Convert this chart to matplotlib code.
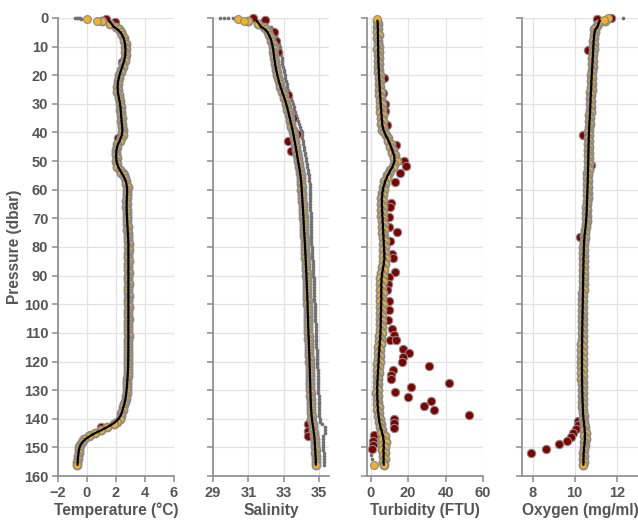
import numpy as np
import matplotlib
matplotlib.use("Agg")
import matplotlib.pyplot as plt
import pandas as pd

plt.rcParams["font.family"] = ["Liberation Sans", "DejaVu Sans"]
plt.rcParams["font.weight"] = "bold"

# pressure grid of the profile samples (dbar)
PRESSURE = np.arange(1, 157)

TEMPERATURE = [
    1.02, 1.58, 1.97, 2.18, 2.38, 2.44, 2.57, 2.58, 2.66, 2.62,
    2.69, 2.63, 2.68, 2.61, 2.60, 2.47, 2.46, 2.35, 2.32, 2.20,
    2.20, 2.12, 2.14, 2.08, 2.12, 2.10, 2.18, 2.18, 2.27, 2.27,
    2.33, 2.31, 2.36, 2.33, 2.39, 2.37, 2.42, 2.40, 2.47, 2.44,
    2.48, 2.35, 2.25, 2.07, 2.08, 1.99, 2.03, 1.98, 2.04, 2.00,
    2.07, 2.08, 2.25, 2.35, 2.55, 2.60, 2.72, 2.72, 2.80, 2.76,
    2.79, 2.74, 2.77, 2.72, 2.74, 2.72, 2.75, 2.73, 2.77, 2.74,
    2.79, 2.77, 2.81, 2.79, 2.83, 2.82, 2.86, 2.84, 2.87, 2.84,
    2.87, 2.85, 2.86, 2.84, 2.87, 2.85, 2.86, 2.85, 2.87, 2.84,
    2.86, 2.85, 2.87, 2.85, 2.86, 2.84, 2.87, 2.85, 2.86, 2.85,
    2.87, 2.84, 2.86, 2.85, 2.87, 2.85, 2.86, 2.84, 2.86, 2.85,
    2.87, 2.85, 2.86, 2.84, 2.86, 2.85, 2.86, 2.84, 2.85, 2.85,
    2.86, 2.83, 2.84, 2.81, 2.81, 2.78, 2.79, 2.76, 2.76, 2.73,
    2.73, 2.68, 2.67, 2.61, 2.58, 2.51, 2.47, 2.38, 2.34, 2.25,
    2.10, 1.86, 1.38, 0.97, 0.52, 0.17, -0.20, -0.36, -0.50, -0.53,
    -0.58, -0.58, -0.62, -0.62, -0.66, -0.67,
]

SALINITY = [
    30.95, 31.55, 31.88, 31.98, 32.12, 32.16, 32.27, 32.28, 32.37, 32.36,
    32.42, 32.40, 32.46, 32.44, 32.50, 32.48, 32.55, 32.54, 32.62, 32.61,
    32.69, 32.70, 32.77, 32.78, 32.88, 32.90, 33.00, 33.01, 33.11, 33.12,
    33.20, 33.20, 33.28, 33.28, 33.35, 33.35, 33.43, 33.43, 33.51, 33.50,
    33.57, 33.56, 33.63, 33.62, 33.69, 33.68, 33.74, 33.73, 33.80, 33.78,
    33.85, 33.84, 33.91, 33.90, 33.96, 33.94, 33.99, 33.97, 34.02, 33.99,
    34.03, 34.02, 34.05, 34.04, 34.07, 34.06, 34.09, 34.08, 34.11, 34.10,
    34.13, 34.11, 34.14, 34.13, 34.16, 34.15, 34.18, 34.17, 34.20, 34.19,
    34.22, 34.20, 34.23, 34.22, 34.25, 34.23, 34.26, 34.25, 34.28, 34.27,
    34.29, 34.28, 34.30, 34.29, 34.32, 34.30, 34.33, 34.32, 34.34, 34.33,
    34.35, 34.34, 34.36, 34.35, 34.37, 34.36, 34.38, 34.37, 34.39, 34.38,
    34.41, 34.39, 34.42, 34.41, 34.43, 34.42, 34.44, 34.43, 34.46, 34.44,
    34.47, 34.45, 34.47, 34.46, 34.48, 34.47, 34.49, 34.48, 34.50, 34.49,
    34.51, 34.50, 34.52, 34.51, 34.53, 34.53, 34.55, 34.54, 34.57, 34.56,
    34.61, 34.62, 34.67, 34.67, 34.71, 34.71, 34.74, 34.74, 34.77, 34.76,
    34.79, 34.78, 34.80, 34.80, 34.81, 34.81,
]

# second (raw) salinity track, starts at 3 dbar
SALINITY_RAW2 = [
    32.30, 32.42, 32.50, 32.58, 32.63, 32.68, 32.73, 32.76,
    32.80, 32.82, 32.86, 32.87, 32.90, 32.92, 32.96, 32.98, 33.02, 33.05,
    33.09, 33.12, 33.17, 33.20, 33.26, 33.30, 33.36, 33.40, 33.46, 33.50,
    33.56, 33.60, 33.65, 33.70, 33.74, 33.80, 33.85, 33.90, 33.96, 34.00,
    34.02, 34.04, 34.06, 34.09, 34.12, 34.14, 34.17, 34.20, 34.23, 34.26,
    34.29, 34.32, 34.35, 34.37, 34.40, 34.42, 34.44, 34.45, 34.46, 34.47,
    34.47, 34.48, 34.48, 34.49, 34.49, 34.50, 34.50, 34.51, 34.51, 34.52,
    34.52, 34.53, 34.53, 34.54, 34.54, 34.55, 34.55, 34.56, 34.56, 34.57,
    34.58, 34.59, 34.60, 34.61, 34.62, 34.63, 34.64, 34.65, 34.66, 34.67,
    34.68, 34.68, 34.69, 34.70, 34.70, 34.71, 34.72, 34.72, 34.73, 34.74,
    34.75, 34.75, 34.76, 34.77, 34.78, 34.78, 34.79, 34.80, 34.80, 34.81,
    34.82, 34.82, 34.83, 34.84, 34.84, 34.85, 34.86, 34.86, 34.87, 34.88,
    34.89, 34.89, 34.90, 34.91, 34.91, 34.92, 34.93, 34.93, 34.94, 34.95,
    34.95, 34.96, 34.97, 34.97, 34.98, 34.99, 35.00, 35.00, 35.01, 35.02,
    35.05, 35.15, 35.30, 35.33, 35.30, 35.22, 35.20, 35.20, 35.21, 35.22,
    35.23, 35.24, 35.25, 35.25, 35.26, 35.26,
]

TURBIDITY = [
    3.4, 4.0, 3.5, 4.1, 3.6, 4.2, 3.5, 4.1, 3.7, 4.3,
    3.6, 4.4, 3.8, 4.3, 3.7, 4.6, 3.9, 4.5, 4.0, 4.8,
    4.2, 5.0, 4.3, 5.1, 4.5, 5.4, 4.6, 5.5, 4.8, 5.8,
    5.0, 6.0, 5.2, 6.3, 5.4, 6.5, 5.7, 6.8, 6.0, 7.2,
    8.0, 9.3, 9.5, 10.6, 10.4, 11.8, 11.6, 13.0, 12.6, 13.8,
    12.2, 12.0, 10.4, 10.0, 8.6, 8.8, 7.3, 7.6, 6.3, 6.9,
    5.8, 6.5, 5.4, 6.4, 5.5, 6.5, 5.6, 6.7, 5.7, 6.8,
    5.9, 7.0, 6.0, 7.2, 6.1, 7.3, 6.3, 7.5, 6.4, 7.6,
    6.6, 7.9, 6.7, 8.0, 6.8, 7.5, 6.2, 6.9, 5.6, 6.4,
    5.2, 6.3, 5.1, 6.2, 5.0, 6.4, 5.1, 6.2, 5.0, 6.3,
    4.9, 6.1, 4.9, 6.1, 4.8, 6.0, 4.7, 5.9, 4.7, 6.0,
    4.5, 5.6, 4.3, 5.4, 4.1, 5.1, 3.9, 4.9, 3.8, 4.7,
    3.6, 4.5, 3.5, 4.4, 3.3, 4.1, 3.2, 3.9, 3.1, 3.8,
    3.0, 4.0, 3.1, 4.1, 3.2, 4.2, 3.4, 4.5, 3.7, 4.8,
    4.2, 5.3, 4.8, 6.0, 5.6, 7.4, 6.2, 8.0, 6.1, 7.6,
    6.2, 7.4, 6.3, 7.6, 6.5, 6.9,
]

OXYGEN = [
    11.45, 11.10, 11.00, 10.93, 10.96, 10.90, 10.93, 10.87, 10.91, 10.86,
    10.90, 10.85, 10.88, 10.83, 10.87, 10.82, 10.85, 10.80, 10.84, 10.78,
    10.82, 10.77, 10.81, 10.76, 10.80, 10.74, 10.78, 10.73, 10.77, 10.72,
    10.76, 10.71, 10.75, 10.70, 10.73, 10.68, 10.72, 10.66, 10.70, 10.65,
    10.70, 10.64, 10.69, 10.63, 10.68, 10.63, 10.67, 10.62, 10.67, 10.62,
    10.66, 10.61, 10.66, 10.60, 10.65, 10.60, 10.64, 10.59, 10.63, 10.58,
    10.62, 10.57, 10.61, 10.56, 10.60, 10.55, 10.59, 10.54, 10.58, 10.53,
    10.56, 10.52, 10.53, 10.48, 10.50, 10.45, 10.47, 10.42, 10.46, 10.41,
    10.45, 10.40, 10.45, 10.39, 10.44, 10.39, 10.44, 10.38, 10.43, 10.38,
    10.43, 10.37, 10.42, 10.37, 10.42, 10.36, 10.41, 10.36, 10.41, 10.35,
    10.40, 10.35, 10.40, 10.34, 10.39, 10.34, 10.39, 10.33, 10.38, 10.33,
    10.38, 10.33, 10.38, 10.32, 10.37, 10.32, 10.37, 10.32, 10.37, 10.32,
    10.37, 10.32, 10.37, 10.32, 10.37, 10.32, 10.37, 10.33, 10.38, 10.33,
    10.38, 10.34, 10.39, 10.35, 10.40, 10.36, 10.41, 10.37, 10.42, 10.38,
    10.45, 10.42, 10.49, 10.45, 10.52, 10.46, 10.52, 10.45, 10.49, 10.42,
    10.45, 10.40, 10.44, 10.39, 10.43, 10.41,
]

# surface / extra points
TEMP_SURF_GOOD, TEMP_SURF_GOOD_P = [0.02, 0.67], [0.45, 1.05]
TEMP_SURF_RAW, TEMP_SURF_RAW_P = [-0.8, -0.7, -0.6, -0.5, -0.4], [0.1, 0.1, 0.15, 0.15, 0.2]
TEMP_BAD = [1.31, 1.93, 2.39, 2.14, 2.5, 0.95, 0.2, -0.25]
TEMP_BAD_P = [0.35, 1.3, 15.3, 42, 54, 142.9, 145.5, 147.3]

SAL_SURF_GOOD, SAL_SURF_GOOD_P = [30.43, 30.73], [0.45, 1.2]
SAL_SURF_RAW, SAL_SURF_RAW_P = [29.39, 29.6, 29.82, 30.1], [0.1, 0.1, 0.1, 0.15]
SAL_BAD = [31.24, 31.95, 32.42, 32.55, 32.65, 33.25, 33.5, 33.75, 33.24, 33.39, 34.34, 34.39, 34.34]
SAL_BAD_P = [0.0, 0.7, 5, 8, 12, 27, 35, 40.7, 42.9, 46.4, 142, 144.3, 146.1]

TURB_SURF_GOOD, TURB_SURF_GOOD_P = [3.2, 1.8], [0.3, 156.3]
TURB_SURF_RAW, TURB_SURF_RAW_P = [0.3, 0.4, 0.5], [151, 152.5, 154]
TURB_BAD = [
    7.2, 6.8, 7.7, 7.9, 8.6, 13.6, 17.9, 19.0, 15.7, 13.2,
    11.1, 10.4, 9.8, 10.0, 14.0, 10.4, 11.4, 11.8, 13.1, 10.0,
    9.0, 8.6, 9.7, 10.0, 9.5, 11.3, 12.5, 10.4, 13.6, 17.2,
    20.6, 17.2, 16.6, 30.9, 11.8, 10.7, 10.7, 41.7, 21.5, 13.2,
    19.9, 32.4, 28.6, 33.6, 52.8, 12.5, 12.5, 12.5, 2.0, 1.4,
    1.4, 0.7,
]
TURB_BAD_P = [
    20.9, 26.1, 30.2, 32.4, 37.4, 44.4, 49.9, 51.6, 54.0, 57.2,
    64.5, 66.2, 69.5, 73.0, 74.7, 77.9, 82.5, 84.0, 88.7, 90.4,
    92.8, 95.1, 98.8, 102.1, 105.6, 108.5, 110.8, 112.6, 112.4, 115.5,
    117.0, 118.6, 120.2, 121.7, 123.1, 124.7, 126.1, 127.5, 129.0, 130.7,
    132.4, 133.8, 135.6, 137.1, 138.7, 140.0, 141.5, 143.1, 145.8, 147.6,
    149.1, 150.6,
]

OXY_SURF_GOOD, OXY_SURF_GOOD_P = [11.59, 11.4], [0.1, 0.7]
OXY_SURF_RAW, OXY_SURF_RAW_P = [12.31], [0.0]
OXY_BAD = [11.06, 11.7, 10.65, 10.41, 10.76, 10.27, 10.17, 10.14, 10.05, 9.92, 9.80, 9.65, 9.26, 8.66, 7.94]
OXY_BAD_P = [0.35, 0.0, 11.2, 40.9, 51.4, 76.5, 140.8, 142.3, 143.7, 145.0, 146.2, 147.6, 148.9, 150.5, 152.0]

GOLD = "#F2B11E"
DARK_RED = "#800000"
EDGE = "#8a8a8a"
RAW = "#707070"
TEXT = "#555555"

panels = [
    dict(good=TEMPERATURE, raw2=None, sg=TEMP_SURF_GOOD, sgp=TEMP_SURF_GOOD_P,
         sr=TEMP_SURF_RAW, srp=TEMP_SURF_RAW_P, bad=TEMP_BAD, badp=TEMP_BAD_P,
         xlim=(-2, 6), ticks=[-2, 0, 2, 4, 6], label="Temperature (°C)"),
    dict(good=SALINITY, raw2=SALINITY_RAW2, sg=SAL_SURF_GOOD, sgp=SAL_SURF_GOOD_P,
         sr=SAL_SURF_RAW, srp=SAL_SURF_RAW_P, bad=SAL_BAD, badp=SAL_BAD_P,
         xlim=(29, 35.55), ticks=[29, 31, 33, 35], label="Salinity"),
    dict(good=TURBIDITY, raw2=None, sg=TURB_SURF_GOOD, sgp=TURB_SURF_GOOD_P,
         sr=TURB_SURF_RAW, srp=TURB_SURF_RAW_P, bad=TURB_BAD, badp=TURB_BAD_P,
         xlim=(-2, 60), ticks=[0, 20, 40, 60], label="Turbidity (FTU)"),
    dict(good=OXYGEN, raw2=None, sg=OXY_SURF_GOOD, sgp=OXY_SURF_GOOD_P,
         sr=OXY_SURF_RAW, srp=OXY_SURF_RAW_P, bad=OXY_BAD, badp=OXY_BAD_P,
         xlim=(7.5, 13.0), ticks=[8, 10, 12], label="Oxygen (mg/ml)"),
]

fig = plt.figure(figsize=(6.38, 5.2), dpi=100)
lefts = [0.0909, 0.3339, 0.5752, 0.8182]

for i, (left, pn) in enumerate(zip(lefts, panels)):
    ax = fig.add_axes([left, 0.0846, 0.1818, 0.8808])
    good = np.array(pn["good"])

    # raw samples
    ax.scatter(good, PRESSURE, s=6, color=RAW, lw=0, zorder=2, clip_on=False)
    if pn["raw2"] is not None:
        ax.scatter(pn["raw2"], PRESSURE[2:], s=7, color=RAW, lw=0, zorder=2, clip_on=False)
    ax.scatter(pn["sr"], pn["srp"], s=7, color=RAW, lw=0, zorder=2, clip_on=False)

    # flagged samples
    ax.scatter(pn["bad"], pn["badp"], s=36, color=DARK_RED, edgecolor=EDGE,
               lw=0.8, zorder=3, clip_on=False)

    # good samples
    ax.scatter(good, PRESSURE, s=34, color=GOLD, edgecolor=EDGE, lw=1.3,
               zorder=4, clip_on=False)
    ax.scatter(pn["sg"], pn["sgp"], s=32, color=GOLD, edgecolor=EDGE, lw=0.8,
               zorder=4, clip_on=False)

    # smoothed profile
    smooth = pd.Series(good).rolling(5, center=True, min_periods=1).mean()
    ax.plot(smooth, PRESSURE, color="black", lw=1.6, zorder=5)

    ax.set_xlim(*pn["xlim"])
    ax.set_ylim(160, 0)
    ax.set_xticks(pn["ticks"])
    ax.set_yticks(range(0, 161, 10))
    ax.grid(True, color="#e3e3e3", lw=0.9, zorder=0)
    ax.set_axisbelow(True)
    for side in ["top", "right"]:
        ax.spines[side].set_visible(False)
    for side in ["left", "bottom"]:
        ax.spines[side].set_color("#8a8a8a")
        ax.spines[side].set_linewidth(1.2)
    ax.tick_params(colors="#8a8a8a", labelcolor=TEXT, labelsize=10.5,
                   length=4, width=1.1, pad=3)
    for t in ax.get_xticklabels() + ax.get_yticklabels():
        t.set_fontweight("bold")
    ax.set_xlabel(pn["label"], fontsize=11.2, fontweight="bold", color=TEXT, labelpad=2)
    if i == 0:
        ax.set_ylabel("Pressure (dbar)", fontsize=11.2, fontweight="bold", color=TEXT, labelpad=1)
    else:
        ax.tick_params(labelleft=False)

fig.savefig("out.png", dpi=100)
